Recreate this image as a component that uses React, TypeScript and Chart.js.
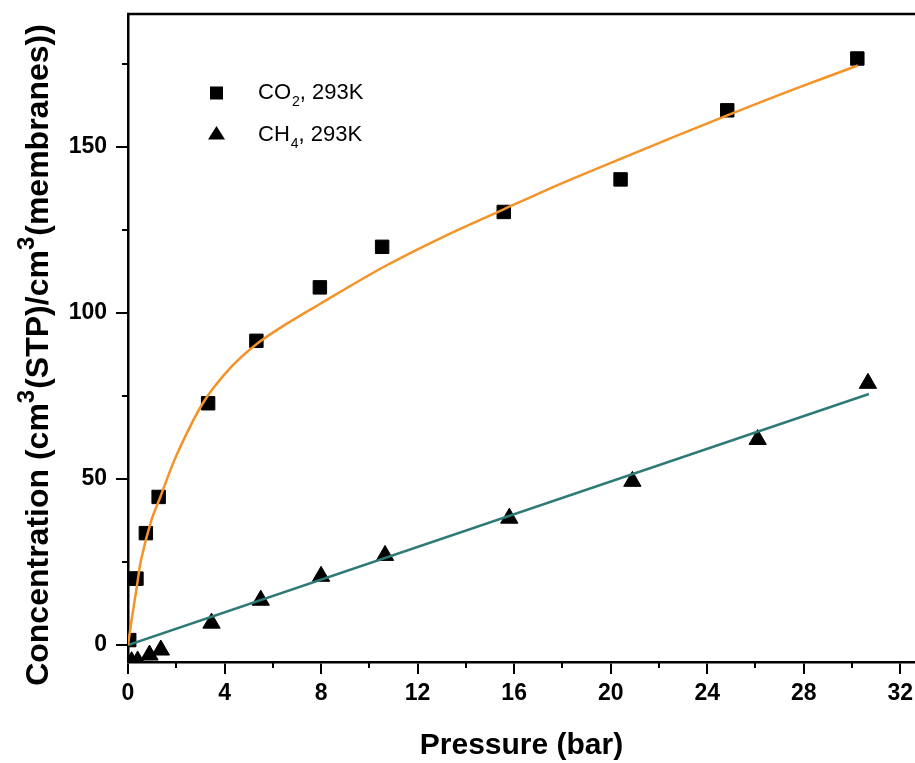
import React, { useEffect, useRef } from "react";
import { Chart, registerables } from "chart.js";

Chart.register(...registerables);

// ---- axes ----
const xTicks = [0, 4, 8, 12, 16, 20, 24, 28, 32];
const xMinorTicks = [2, 6, 10, 14, 18, 22, 26, 30];
const yTicks = [0, 50, 100, 150];
const yMinorTicks = [25, 75, 125, 175];
const xMin = 0;
const xMax = 32.61;
const yMin = -5.1;
const yMax = 190;
const xTitle = "Pressure (bar)";
// [text, isSuperscript]
const yTitleParts: [string, boolean][] = [
  ["Concentration (cm", false],
  ["3", true],
  ["(STP)/cm", false],
  ["3", true],
  ["(membranes))", false],
];

// ---- CO2 measured points ----
const co2Label = "CO₂, 293K";
const co2Pressure = [0.05, 0.2, 0.35, 0.74, 1.27, 3.32, 5.32, 7.95, 10.53, 15.57, 20.41, 24.83, 30.22];
const co2Conc = [1.5, 20, 20, 33.7, 44.6, 72.8, 91.6, 107.7, 119.9, 130.4, 140.2, 161, 176.6];

// ---- CH4 measured points ----
const ch4Label = "CH₄, 293K";
const ch4Pressure = [0.15, 0.4, 0.89, 1.36, 3.46, 5.5, 8.0, 10.65, 15.8, 20.9, 26.09, 30.66];
const ch4Conc = [-5, -4.8, -3.0, -1.5, 6.6, 13.5, 20.7, 27, 38.2, 49.3, 61.9, 78.8];

// ---- fitted curves ----
const co2FitPressure = [0, 0.15, 0.37, 0.54, 0.97, 1.34, 2.0, 3.1, 4.22, 5.32, 6.5, 7.95, 10.53, 13, 15.57, 17.9, 20.41, 24.83, 27.5, 30.24];
const co2FitConc = [0, 7.5, 17.8, 25.6, 37.6, 44.6, 57, 72.8, 83.3, 90.6, 96.4, 102.7, 113.6, 122.7, 131.2, 138.8, 146.4, 159.5, 167.1, 174.5];
const ch4FitPressure = [0, 30.7];
const ch4FitConc = [0, 75.6];

const ORANGE = "#F39328";
const TEAL = "#2E7A77";
const FONT = '"Liberation Sans", Arial, Helvetica, sans-serif';

const SUBS: Record<string, string> = {
  "₀": "0", "₁": "1", "₂": "2", "₃": "3", "₄": "4",
  "₅": "5", "₆": "6", "₇": "7", "₈": "8", "₉": "9",
};

function drawRichLabel(ctx: CanvasRenderingContext2D, label: string, x: number, y: number, size: number) {
  let cx = x;
  ctx.textAlign = "left";
  ctx.textBaseline = "middle";
  for (const ch of Array.from(label)) {
    if (SUBS[ch]) {
      const s = Math.round(size * 0.62);
      ctx.font = `${s}px ${FONT}`;
      ctx.fillText(SUBS[ch], cx + 1, y + size * 0.42);
      cx += ctx.measureText(SUBS[ch]).width + 1;
    } else {
      ctx.font = `${size}px ${FONT}`;
      ctx.fillText(ch, cx, y);
      cx += ctx.measureText(ch).width;
    }
  }
}

const decorPlugin = {
  id: "decor",
  afterDraw(chart: any) {
    const ctx: CanvasRenderingContext2D = chart.ctx;
    const { left, right, top, bottom } = chart.chartArea;
    const xs = chart.scales.x;
    const ys = chart.scales.y;
    ctx.save();
    ctx.strokeStyle = "#000";
    ctx.fillStyle = "#000";
    // top frame line
    ctx.lineWidth = 2.5;
    ctx.beginPath();
    ctx.moveTo(left - 1, top);
    ctx.lineTo(right, top);
    ctx.stroke();
    // minor ticks
    ctx.lineWidth = 2;
    ctx.beginPath();
    for (const v of xMinorTicks) {
      const px = Math.round(xs.getPixelForValue(v));
      ctx.moveTo(px, bottom);
      ctx.lineTo(px, bottom + 6);
    }
    for (const v of yMinorTicks) {
      const py = Math.round(ys.getPixelForValue(v));
      ctx.moveTo(left, py);
      ctx.lineTo(left - 6, py);
    }
    ctx.stroke();

    // y title with superscripts
    ctx.save();
    ctx.translate(39, 355);
    ctx.rotate(-Math.PI / 2);
    const big = `bold 32px ${FONT}`;
    const small = `bold 24px ${FONT}`;
    let total = 0;
    for (const [t, sup] of yTitleParts) {
      ctx.font = sup ? small : big;
      total += ctx.measureText(t).width + (sup ? 1 : 0);
    }
    let cx = -total / 2;
    ctx.textAlign = "left";
    ctx.textBaseline = "middle";
    for (const [t, sup] of yTitleParts) {
      ctx.font = sup ? small : big;
      ctx.fillText(t, cx, sup ? -12 : 0);
      cx += ctx.measureText(t).width + (sup ? 1 : 0);
    }
    ctx.restore();

    // inset legend
    const rows = [
      { label: chart.data.datasets[2].label, style: "rect", y: 93 },
      { label: chart.data.datasets[3].label, style: "triangle", y: 135 },
    ];
    for (const r of rows) {
      const mx = 216.5;
      ctx.beginPath();
      if (r.style === "rect") {
        ctx.rect(mx - 6.5, r.y - 6.5, 13, 13);
      } else {
        ctx.moveTo(mx, r.y - 9);
        ctx.lineTo(mx + 8.5, r.y + 4.5);
        ctx.lineTo(mx - 8.5, r.y + 4.5);
        ctx.closePath();
      }
      ctx.fill();
      drawRichLabel(ctx, r.label, 258, r.y, 22);
    }
    ctx.restore();
  },
};

const noPadding = (s: any) => {
  s.paddingTop = 0;
  s.paddingBottom = 0;
  s.paddingLeft = 0;
  s.paddingRight = 0;
};

export default function App() {
  const ref = useRef<HTMLCanvasElement>(null);
  useEffect(() => {
    document.body.style.margin = "0";
    const canvas = ref.current!;
    const toXY = (xs: number[], ys: number[]) => xs.map((x, i) => ({ x, y: ys[i] }));
    const tickFont = { family: FONT, size: 23, weight: "bold" as const };
    const chart = new Chart(canvas, {
      type: "scatter",
      data: {
        datasets: [
          {
            label: "CO₂ fit",
            data: toXY(co2FitPressure, co2FitConc),
            showLine: true,
            borderColor: ORANGE,
            backgroundColor: ORANGE,
            borderWidth: 2.5,
            pointRadius: 0,
            tension: 0.3,
            fill: false,
          } as any,
          {
            label: "CH₄ fit",
            data: toXY(ch4FitPressure, ch4FitConc),
            showLine: true,
            borderColor: TEAL,
            backgroundColor: TEAL,
            borderWidth: 2.5,
            pointRadius: 0,
            fill: false,
          },
          {
            label: co2Label,
            data: toXY(co2Pressure, co2Conc),
            showLine: false,
            pointStyle: "rect",
            pointRadius: 9.5,
            backgroundColor: "#000",
            borderColor: "#000",
            borderWidth: 1,
          },
          {
            label: ch4Label,
            data: toXY(ch4Pressure, ch4Conc),
            showLine: false,
            pointStyle: "triangle",
            pointRadius: 10,
            backgroundColor: "#000",
            borderColor: "#000",
            borderWidth: 1,
          },
        ],
      },
      options: {
        responsive: false,
        animation: false,
        devicePixelRatio: 1,
        layout: { autoPadding: false, padding: { top: 14, right: 0, left: 0, bottom: 0 } },
        plugins: { legend: { display: false }, tooltip: { enabled: false } },
        scales: {
          x: {
            type: "linear",
            min: xMin,
            max: xMax,
            afterBuildTicks: (s: any) => {
              s.ticks = xTicks.map((v) => ({ value: v }));
            },
            afterFit: (s: any) => {
              s.height = 101;
              noPadding(s);
            },
            grid: { drawOnChartArea: false, drawTicks: true, tickLength: 12, color: "#000", lineWidth: 2 },
            border: { display: true, color: "#000", width: 2.5 },
            ticks: { color: "#000", font: tickFont, padding: 6, maxRotation: 0, autoSkip: false },
            title: {
              display: true,
              text: xTitle,
              color: "#000",
              font: { family: FONT, size: 30, weight: "bold", lineHeight: 1 },
              padding: { top: 0, bottom: 2 },
            },
          },
          y: {
            type: "linear",
            min: yMin,
            max: yMax,
            afterBuildTicks: (s: any) => {
              s.ticks = yTicks.map((v) => ({ value: v }));
            },
            afterFit: (s: any) => {
              s.width = 128;
              noPadding(s);
            },
            grid: { drawOnChartArea: false, drawTicks: true, tickLength: 12, color: "#000", lineWidth: 2 },
            border: { display: true, color: "#000", width: 2.5 },
            ticks: { color: "#000", font: tickFont, padding: 9, autoSkip: false },
          },
        },
      },
      plugins: [decorPlugin],
    });
    return () => chart.destroy();
  }, []);
  return <canvas ref={ref} width={915} height={763} style={{ display: "block" }} />;
}
